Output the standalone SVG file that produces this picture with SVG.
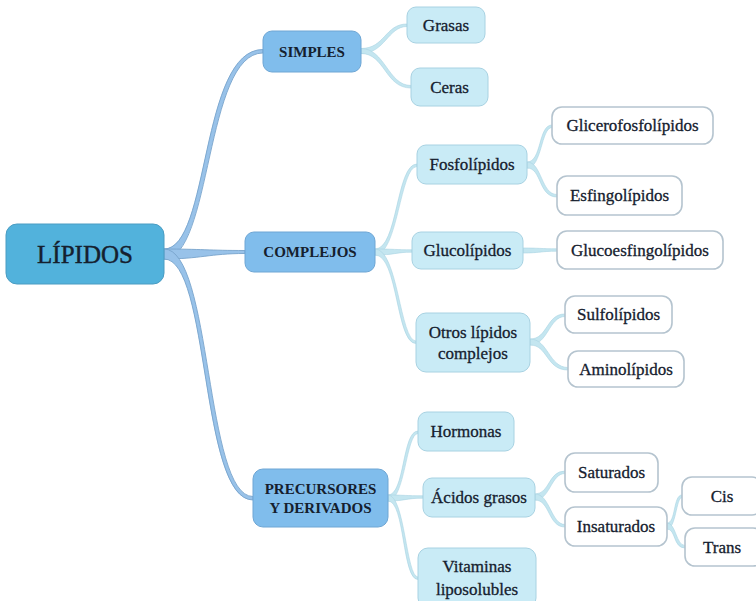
<svg xmlns="http://www.w3.org/2000/svg" width="756" height="601" viewBox="0 0 756 601">
  <style>
    text { font-family: "Liberation Serif", "Times New Roman", serif; fill: #15202e; stroke: #15202e; stroke-width: 0.3; text-anchor: middle; dominant-baseline: central; }
    .root rect { fill: #52b2dc; stroke: #4a9cc2; stroke-width: 1; }
    .root text { font-size: 25px; stroke-width: 0.4; }
    .l1 rect { fill: #80bdec; stroke: #6ea6d4; stroke-width: 1; }
    .l1 text { font-size: 15px; font-weight: bold; stroke-width: 0; }
    .l2 rect { fill: #c9ebf6; stroke: #a8d2e2; stroke-width: 1; }
    .l2 text { font-size: 17px; }
    .l3 rect { fill: #ffffff; stroke: #b5c4cf; stroke-width: 1.6; }
    .l3 text { font-size: 17px; }
    .main { fill: #98c2e9; stroke: #78a4cc; stroke-width: 0.9; }
    .sub { fill: #c4e6f0; stroke: #a9d3e2; stroke-width: 0.6; }
  </style>

  <!-- connectors: tapered curves from parent right edge to child left edge -->
  <g id="connectors">
    <!-- root to first level -->
    <path class="main" d="M164,249 C210,249 200,49.5 263,49.5 L263,53 C205,53 212,259 164,259 Z"/>
    <path class="main" d="M164,249 C200,249 210,250.5 245,250.5 L245,253.5 C210,253.5 200,259 164,259 Z"/>
    <path class="main" d="M164,249 C212,249 205,496.5 253,496.5 L253,500 C200,500 210,259 164,259 Z"/>
    <!-- SIMPLES -->
    <path class="sub" d="M361,48.5 C385,48.5 385,24 407,24 L407,26.5 C388,26.5 385,53.5 361,53.5 Z"/>
    <path class="sub" d="M361,48.5 C385,48.5 388,85.5 411,85.5 L411,88 C385,88 385,53.5 361,53.5 Z"/>
    <!-- COMPLEJOS -->
    <path class="sub" d="M375,249 C398,249 396,164 417,164 L417,166.5 C400,166.5 398,255 375,255 Z"/>
    <path class="sub" d="M375,249 C395,249 395,249.8 412,249.8 L412,252.2 C395,252.2 395,255 375,255 Z"/>
    <path class="sub" d="M375,249 C398,249 400,341 416,341 L416,343.5 C396,343.5 398,255 375,255 Z"/>
    <!-- Fosfolípidos -->
    <path class="sub" d="M527,162 C542,162 538,125 552,125 L552,127.5 C541,127.5 542,168 527,168 Z"/>
    <path class="sub" d="M527,162 C542,162 541,194.5 557,194.5 L557,197 C538,197 542,168 527,168 Z"/>
    <!-- Glucolípidos -->
    <path class="sub" d="M523,248 C540,248 540,248.8 557,248.8 L557,251.2 C540,251.2 540,253 523,253 Z"/>
    <!-- Otros lípidos complejos -->
    <path class="sub" d="M530,339 C548,339 546,314 565,314 L565,316.5 C549,316.5 548,345 530,345 Z"/>
    <path class="sub" d="M530,339 C548,339 549,367.5 568,367.5 L568,370 C546,370 548,345 530,345 Z"/>
    <!-- PRECURSORES Y DERIVADOS -->
    <path class="sub" d="M388,495 C405,495 402,431 418,431 L418,433.5 C406,433.5 405,501 388,501 Z"/>
    <path class="sub" d="M388,495 C405,495 405,495.8 423,495.8 L423,498.2 C405,498.2 405,501 388,501 Z"/>
    <path class="sub" d="M388,495 C405,495 406,577 418,577 L418,579.5 C402,579.5 405,501 388,501 Z"/>
    <!-- Ácidos grasos -->
    <path class="sub" d="M535,494 C550,494 548,471 565,471 L565,473.5 C551,473.5 550,500 535,500 Z"/>
    <path class="sub" d="M535,494 C550,494 551,524.5 565,524.5 L565,527 C548,527 550,500 535,500 Z"/>
    <!-- Insaturados -->
    <path class="sub" d="M667,523 C676,523 673,495 682,495 L682,497.5 C676,497.5 676,529 667,529 Z"/>
    <path class="sub" d="M667,523 C676,523 676,545.5 685,545.5 L685,548 C673,548 676,529 667,529 Z"/>
  </g>

  <g id="lipidos" class="root">
    <rect x="6" y="224" width="158" height="60" rx="11"/>
    <text x="85" y="254">LÍPIDOS</text>
  </g>

  <g id="simples" class="l1">
    <rect x="263" y="31" width="98" height="41" rx="9"/>
    <text x="312" y="51.5">SIMPLES</text>
  </g>
  <g id="complejos" class="l1">
    <rect x="245" y="232" width="130" height="40" rx="9"/>
    <text x="310" y="252">COMPLEJOS</text>
  </g>
  <g id="precursores" class="l1">
    <rect x="253" y="469" width="135" height="58" rx="10"/>
    <text x="320.5" y="488.5">PRECURSORES</text>
    <text x="320.5" y="507.5">Y DERIVADOS</text>
  </g>

  <g id="grasas" class="l2">
    <rect x="407" y="7" width="78" height="36" rx="9"/>
    <text x="446" y="25">Grasas</text>
  </g>
  <g id="ceras" class="l2">
    <rect x="411" y="68" width="77" height="38" rx="9"/>
    <text x="449.5" y="87">Ceras</text>
  </g>
  <g id="fosfolipidos" class="l2">
    <rect x="417" y="145" width="110" height="39" rx="9"/>
    <text x="472" y="164.5">Fosfolípidos</text>
  </g>
  <g id="glucolipidos" class="l2">
    <rect x="412" y="232" width="111" height="37" rx="9"/>
    <text x="467.5" y="250.5">Glucolípidos</text>
  </g>
  <g id="otros" class="l2">
    <rect x="416" y="313" width="114" height="59" rx="10"/>
    <text x="473" y="332">Otros lípidos</text>
    <text x="473" y="353">complejos</text>
  </g>
  <g id="hormonas" class="l2">
    <rect x="418" y="412" width="96" height="39" rx="9"/>
    <text x="466" y="431.5">Hormonas</text>
  </g>
  <g id="acidos" class="l2">
    <rect x="423" y="478" width="112" height="39" rx="9"/>
    <text x="479" y="497.5">Ácidos grasos</text>
  </g>
  <g id="vitaminas" class="l2">
    <rect x="418" y="548" width="118" height="60" rx="10"/>
    <text x="477" y="566">Vitaminas</text>
    <text x="477" y="589">liposolubles</text>
  </g>

  <g id="glicerofosfolipidos" class="l3">
    <rect x="552" y="107" width="161" height="37" rx="10"/>
    <text x="632.5" y="125.5">Glicerofosfolípidos</text>
  </g>
  <g id="esfingolipidos" class="l3">
    <rect x="557" y="176" width="125" height="39" rx="10"/>
    <text x="619.5" y="195.5">Esfingolípidos</text>
  </g>
  <g id="glucoesfingolipidos" class="l3">
    <rect x="557" y="231" width="166" height="38" rx="10"/>
    <text x="640" y="250">Glucoesfingolípidos</text>
  </g>
  <g id="sulfolipidos" class="l3">
    <rect x="565" y="296" width="107" height="37" rx="10"/>
    <text x="618.5" y="314.5">Sulfolípidos</text>
  </g>
  <g id="aminolipidos" class="l3">
    <rect x="568" y="351" width="116" height="36" rx="10"/>
    <text x="626" y="369">Aminolípidos</text>
  </g>
  <g id="saturados" class="l3">
    <rect x="565" y="453" width="93" height="39" rx="10"/>
    <text x="611.5" y="472.5">Saturados</text>
  </g>
  <g id="insaturados" class="l3">
    <rect x="565" y="507" width="102" height="39" rx="10"/>
    <text x="616" y="526.5">Insaturados</text>
  </g>
  <g id="cis" class="l3">
    <rect x="682" y="477" width="80" height="38" rx="10"/>
    <text x="722" y="496">Cis</text>
  </g>
  <g id="trans" class="l3">
    <rect x="685" y="528" width="78" height="38" rx="10"/>
    <text x="722" y="547">Trans</text>
  </g>
</svg>
